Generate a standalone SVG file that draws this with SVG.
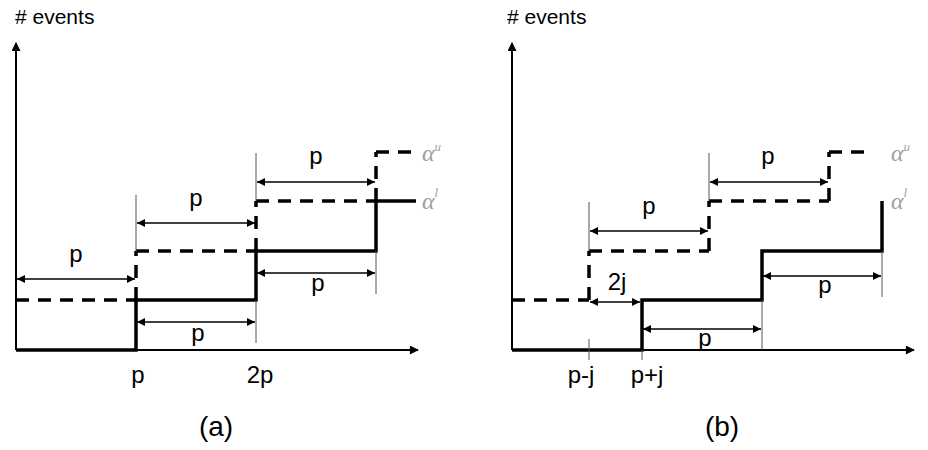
<svg xmlns="http://www.w3.org/2000/svg" width="928" height="450" viewBox="0 0 928 450">
<style>
.ax{stroke:#000;stroke-width:2;fill:none}
.sol{stroke:#000;stroke-width:3.5;fill:none;stroke-linejoin:miter}
.das{stroke:#000;stroke-width:3.5;fill:none;stroke-dasharray:13 9}
.tk{stroke:#555;stroke-width:1;fill:none}
.ar{stroke:#000;stroke-width:1.5;fill:none}
.t{font-family:"Liberation Sans",Arial,sans-serif;fill:#000}
.al{font-family:"Liberation Serif","DejaVu Serif",serif;font-style:italic;fill:#a0a0a0}
</style>
<defs>
<marker id="ah" viewBox="0 0 10 10" refX="10" refY="5" markerWidth="8" markerHeight="8" markerUnits="userSpaceOnUse" orient="auto-start-reverse"><path d="M0,0 L10,5 L0,10 z" fill="#000"/></marker>
<marker id="axh" viewBox="0 0 10 10" refX="9" refY="5" markerWidth="10" markerHeight="9" markerUnits="userSpaceOnUse" orient="auto"><path d="M0,0 L10,5 L0,10 z" fill="#000"/></marker>
</defs>

<g id="panel-a">
<g id="axes-a">
<line class="ax" x1="16" y1="350" x2="16" y2="43" marker-end="url(#axh)"/>
<line class="ax" x1="16" y1="350" x2="418" y2="350" marker-end="url(#axh)"/>
<text class="t" x="15" y="24" font-size="21"># events</text>
</g>
<g id="alpha-l-a"><path class="sol" d="M16,350 H136 V300 H256 V251 H376 V201 H416"/></g>
<g id="alpha-u-a">
<line class="das" x1="16" y1="300" x2="136" y2="300"/>
<line class="das" x1="136" y1="300" x2="136" y2="251"/>
<line class="das" x1="136" y1="251" x2="256" y2="251"/>
<line class="das" x1="256" y1="251" x2="256" y2="201"/>
<line class="das" x1="256" y1="201" x2="376" y2="201"/>
<line class="das" x1="376" y1="201" x2="376" y2="152"/>
<line class="das" x1="376" y1="152" x2="416" y2="152"/>
</g>
<g id="connectors-a">
<line class="tk" x1="136" y1="195" x2="136" y2="251"/>
<line class="tk" x1="256" y1="153" x2="256" y2="201"/>
<line class="tk" x1="376" y1="251" x2="376" y2="294"/>
<line class="tk" x1="256" y1="300" x2="256" y2="343"/>
<line class="ar" x1="17" y1="279" x2="135" y2="279" marker-start="url(#ah)" marker-end="url(#ah)"/>
<line class="ar" x1="137" y1="223" x2="255" y2="223" marker-start="url(#ah)" marker-end="url(#ah)"/>
<line class="ar" x1="257" y1="182" x2="375" y2="182" marker-start="url(#ah)" marker-end="url(#ah)"/>
<line class="ar" x1="257" y1="273" x2="375" y2="273" marker-start="url(#ah)" marker-end="url(#ah)"/>
<line class="ar" x1="137" y1="322" x2="255" y2="322" marker-start="url(#ah)" marker-end="url(#ah)"/>
</g>
<g id="labels-a" class="t" font-size="24" text-anchor="middle">
<text x="76" y="262">p</text>
<text x="196" y="206">p</text>
<text x="316" y="164">p</text>
<text x="318" y="291">p</text>
<text x="198" y="341">p</text>
<text x="138" y="383">p</text>
<text x="260" y="383">2p</text>
<text x="216" y="436" font-size="28">(a)</text>
</g>
<g id="alpha-labels-a">
<text class="al" x="422" y="161" font-size="24">α<tspan font-size="13" dy="-10">u</tspan></text>
<text class="al" x="422" y="209" font-size="24">α<tspan font-size="13" dy="-12">l</tspan></text>
</g>
</g>

<g id="panel-b">
<g id="axes-b">
<line class="ax" x1="512" y1="350" x2="512" y2="43" marker-end="url(#axh)"/>
<line class="ax" x1="512" y1="350" x2="914" y2="350" marker-end="url(#axh)"/>
<text class="t" x="507" y="24" font-size="21"># events</text>
</g>
<g id="alpha-l-b"><path class="sol" d="M512,350 H642 V300 H762 V251 H882 V201"/></g>
<g id="alpha-u-b">
<line class="das" x1="512" y1="300" x2="589" y2="300"/>
<line class="das" x1="589" y1="300" x2="589" y2="251"/>
<line class="das" x1="589" y1="251" x2="709" y2="251"/>
<line class="das" x1="709" y1="251" x2="709" y2="201"/>
<line class="das" x1="709" y1="201" x2="829" y2="201"/>
<line class="das" x1="829" y1="201" x2="829" y2="152"/>
<line class="das" x1="829" y1="152" x2="870" y2="152"/>
</g>
<g id="connectors-b">
<line class="tk" x1="589" y1="202" x2="589" y2="251"/>
<line class="tk" x1="589" y1="339" x2="589" y2="360"/>
<line class="tk" x1="642" y1="350" x2="642" y2="360"/>
<line class="tk" x1="709" y1="153" x2="709" y2="201"/>
<line class="tk" x1="762" y1="300" x2="762" y2="350"/>
<line class="tk" x1="882" y1="251" x2="882" y2="297"/>
<line class="ar" x1="590" y1="231" x2="708" y2="231" marker-start="url(#ah)" marker-end="url(#ah)"/>
<line class="ar" x1="710" y1="182" x2="828" y2="182" marker-start="url(#ah)" marker-end="url(#ah)"/>
<line class="ar" x1="590" y1="302" x2="640" y2="302" marker-start="url(#ah)" marker-end="url(#ah)"/>
<line class="ar" x1="643" y1="329" x2="761" y2="329" marker-start="url(#ah)" marker-end="url(#ah)"/>
<line class="ar" x1="763" y1="276" x2="881" y2="276" marker-start="url(#ah)" marker-end="url(#ah)"/>
</g>
<g id="labels-b" class="t" font-size="24" text-anchor="middle">
<text x="649" y="214">p</text>
<text x="768" y="164">p</text>
<text x="617" y="290">2j</text>
<text x="705" y="346">p</text>
<text x="825" y="293">p</text>
<text x="581" y="383">p-j</text>
<text x="647" y="383">p+j</text>
<text x="722" y="436" font-size="28">(b)</text>
</g>
<g id="alpha-labels-b">
<text class="al" x="891" y="161" font-size="24">α<tspan font-size="13" dy="-10">u</tspan></text>
<text class="al" x="891" y="209" font-size="24">α<tspan font-size="13" dy="-12">l</tspan></text>
</g>
</g>
</svg>
